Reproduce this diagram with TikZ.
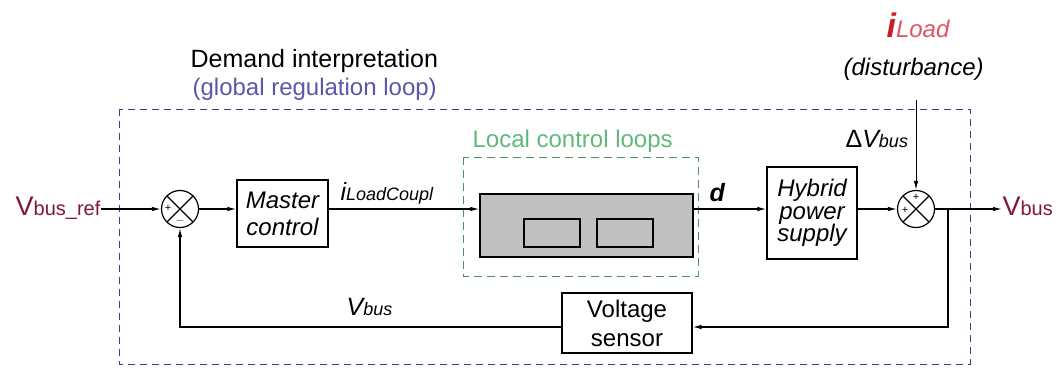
\documentclass[tikz,border=0pt]{standalone}
\usepackage{fontspec}
\setmainfont{Liberation Sans}
\usetikzlibrary{arrows.meta}
\definecolor{vred}{RGB}{128,24,52}
\definecolor{gblue}{RGB}{88,88,170}
\definecolor{oblue}{RGB}{60,60,140}
\definecolor{lgreen}{RGB}{96,184,124}
\definecolor{ired}{RGB}{200,30,40}
\definecolor{lred}{RGB}{226,84,96}
\definecolor{boxgray}{RGB}{192,192,192}
\newcommand{\fsz}[2]{\fontsize{#1}{#2}\selectfont}
\begin{document}
\begin{tikzpicture}[x=1pt,y=-1pt,
  line width=1.2pt,
  arr/.style={-{Latex[length=9pt,width=4.5pt]}},
  blockbox/.style={draw,line width=1.2pt,inner sep=0pt,align=center},
  sumnode/.style={draw,circle,minimum size=37pt,inner sep=0pt,line width=1.2pt,
    path picture={\draw[line width=1.2pt] (path picture bounding box.north west) -- (path picture bounding box.south east)
      (path picture bounding box.north east) -- (path picture bounding box.south west);}},
  sgn/.style={inner sep=0pt,font=\fsz{11}{11}},
  lbl/.style={inner sep=0pt}]
\useasboundingbox (0,0) rectangle (1056,368);
% outer dashed loop
\draw[oblue,line width=1pt,dash pattern=on 7pt off 5pt] (119,109) rectangle (970,364);
\node[lbl,anchor=base west,font=\fsz{25}{25}] (demand) at (190,67) {Demand interpretation};
\node[lbl,anchor=base west,font=\fsz{24}{24},text=gblue] (glob) at (192,95) {(global regulation loop)};
% local loops
\draw[lgreen!80!black,line width=1pt,dash pattern=on 8pt off 5pt] (463,157) rectangle (698,276);
\node[lbl,anchor=base west,font=\fsz{24}{24},text=lgreen] (loc) at (472,147) {Local control loops};
% blocks
\node[sumnode] (s1) at (180,209) {};
\node[sgn] (s1p) at (168,208) {+};
\node[sgn] (s1m) at (180,221) {$-$};
\node[blockbox,minimum width=91pt,minimum height=67pt,font=\fsz{24}{27}\itshape] (master) at (282.5,213.5) {Master\\control};
\node[blockbox,fill=boxgray,minimum width=213pt,minimum height=63pt] (gray) at (586.5,225.5) {};
\node[draw,line width=1.2pt,minimum width=56pt,minimum height=28pt,inner sep=0pt] (in1) at (552,233) {};
\node[draw,line width=1.2pt,minimum width=56pt,minimum height=28pt,inner sep=0pt] (in2) at (625,233) {};
\node[blockbox,minimum width=90pt,minimum height=92pt,font=\fsz{24}{22.5}\itshape] (hyb) at (812,213) {Hybrid\\power\\supply};
\node[sumnode] (s2) at (916,209) {};
\node[sgn] (s2p) at (916,197) {+};
\node[sgn] (s2l) at (905,210) {+};
\node[blockbox,minimum width=130pt,minimum height=60pt,font=\fsz{24}{29}] (sens) at (627,323) {Voltage\\sensor};
% labels
\node[lbl,anchor=base east,text=vred] (vref) at (101,215) {\fsz{27}{27}V\fsz{20}{20}bus\_ref};
\node[lbl,anchor=base west,text=vred] (vout) at (1002,215) {\fsz{27}{27}V\fsz{20}{20}bus};
\node[lbl,anchor=base west,font=\itshape] (iload) at (340,200) {\fsz{25}{25}i\fsz{18}{18}LoadCoupl};
\node[lbl,anchor=base west,font=\bfseries\itshape\fsz{25}{25}] (dlab) at (709,201) {d};
\node[lbl,anchor=base west,font=\itshape] (vfb) at (346,315) {\fsz{25}{25}V\fsz{18}{18}bus};
\node[lbl,anchor=base west] (dv) at (845,147) {\fsz{25}{25}Δ\itshape V\fsz{18}{18}bus};
\node[lbl,anchor=base west] (il) at (886,37) {\fsz{34}{34}\bfseries\itshape\textcolor{ired}{i}\mdseries\fsz{24}{24}\textcolor{lred}{Load}};
\node[lbl,anchor=base west,font=\fsz{24}{24}\itshape] (dist) at (843,75) {(disturbance)};
% coordinates
\coordinate (br) at (948,209);
\coordinate (brd) at (948,327);
\coordinate (fl) at (180,327);
\coordinate (dtop) at (916,100);
\coordinate (thk) at (128,209);
% connectors
\draw[arr] (vref.east |- s1.west) -- (s1.west);
\draw[line width=2.2pt] (vref.east |- s1.west) -- (thk);
\draw[arr] (s1.east) -- (s1.east -| master.west);
\draw[arr] (s1.east -| master.east) -- (s1.east -| gray.west);
\draw[arr] (s1.east -| gray.east) -- (s1.east -| hyb.west);
\draw[arr] (s2.west -| hyb.east) -- (s2.west);
\draw[arr] (s2.east) -- (s2.east -| vout.west);
\draw[arr] (br) -- (brd) -- (brd -| sens.east);
\draw[arr] (brd -| sens.west) -- (fl) -- (s1.south);
\draw[arr,line width=1pt] (dtop) -- (s2.north);
\end{tikzpicture}
\end{document}
